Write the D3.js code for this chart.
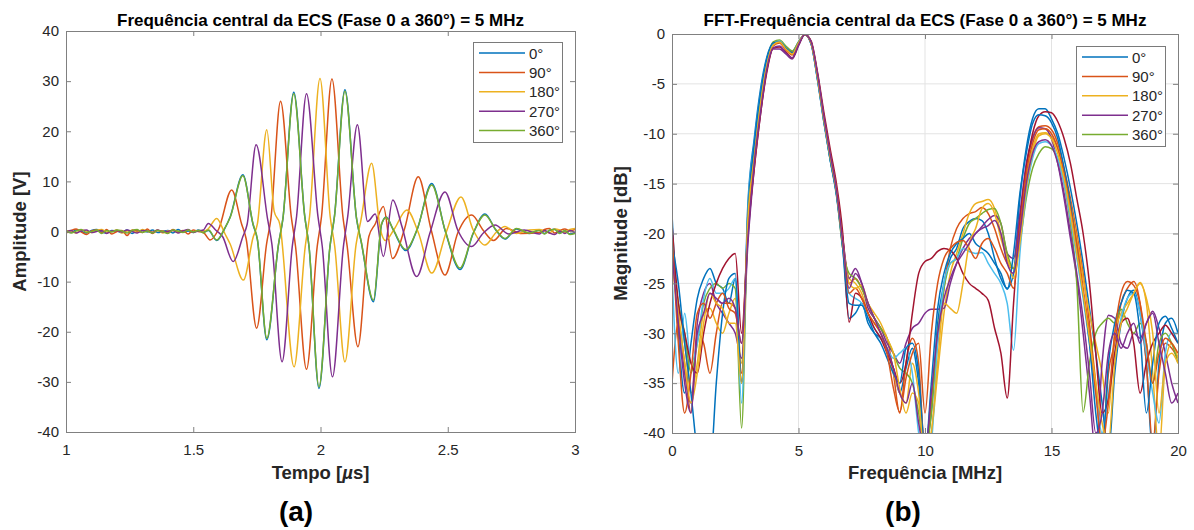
<!DOCTYPE html>
<html>
<head>
<meta charset="utf-8">
<script src="https://cdn.jsdelivr.net/npm/d3@7"></script>
<style>
body { margin: 0; background: #fff; }
svg { display: block; font-family: "Liberation Sans", Arial, sans-serif; }
</style>
</head>
<body>
<script>
// MATLAB default line colours
const colors = ["#0072BD", "#D95319", "#EDB120", "#7E2F8E", "#77AC30", "#4DBEEE", "#A2142F"];
const phaseLabels = ["0°", "90°", "180°", "270°", "360°"];

// ---------- (a) time signals ----------
const timeTicks = [1, 1.5, 2, 2.5, 3];
const ampTicks = [-40, -30, -20, -10, 0, 10, 20, 30, 40];

const tLead = [1.00,1.02,1.04,1.06,1.08,1.10,1.12,1.14,1.16,1.18,1.20,1.22,1.24,1.26,
               1.28,1.30,1.32,1.34,1.36,1.38,1.40,1.42,1.44,1.46,1.48,1.50,1.52,1.54];
const tTail = [2.86,2.88,2.90,2.92,2.94,2.96,2.98,3.00];

const leadBlue   = [0.1,-0.2,0.3,0.0,-0.3,0.2,0.4,-0.1,-0.3,0.2,0.1,-0.2,0.3,-0.4,0.1,0.2,-0.1,0.3,-0.2,0.0,0.2,-0.3,0.4,-0.1,0.1,-0.2,0.3,0.0];
const leadOrange = [-0.3,0.2,0.5,-0.1,-0.6,0.1,0.3,-0.2,0.4,-0.5,0.0,0.2,-0.8,0.3,0.1,-0.2,0.5,-0.4,0.2,0.1,-0.3,0.4,-0.1,0.2,-0.5,0.3,0.0,-0.2];
const leadYellow = [0.2,0.0,-0.3,0.3,0.1,-0.2,0.2,0.4,-0.1,0.0,0.3,-0.3,0.1,0.2,-0.2,0.4,0.0,-0.1,0.3,-0.3,0.1,0.2,-0.2,0.0,0.3,-0.1,0.2,0.1];
const leadPurple = [-0.1,0.2,-0.3,0.1,0.3,-0.2,0.0,0.2,-0.4,0.1,0.2,-0.1,0.3,0.0,-0.3,0.2,0.1,-0.2,0.3,-0.1,0.0,0.2,-0.3,0.1,0.4,-0.2,0.1,0.3];
const leadGreen  = [0.2,-0.3,0.1,0.4,-0.2,0.0,0.3,-0.4,0.2,-0.1,0.3,0.1,-0.3,0.2,0.4,-0.2,0.1,-0.3,0.2,0.0,-0.4,0.3,0.1,-0.2,0.3,-0.1,0.2,-0.3];

const tailBlue   = [0.3,-0.4,0.2,0.5,-0.3,0.1,-0.5,-0.3];
const tailOrange = [-0.2,0.4,0.6,-0.3,0.2,0.5,0.1,0.4];
const tailYellow = [0.4,0.1,-0.3,0.5,0.3,-0.2,0.4,0.6];
const tailPurple = [-0.5,0.2,-0.3,-0.6,0.1,-0.4,0.2,-0.2];
const tailGreen  = [0.2,-0.5,0.3,0.4,-0.4,0.2,-0.6,-0.4];

// burst: [time us, amplitude V]
const burstBlue = [[1.56,0.2],[1.592,-1.8],[1.625,0.7],[1.645,2.9],[1.695,11.3],
  [1.735,1.4],[1.752,-1.6],[1.789,-21.6],[1.835,-2.6],[1.852,2.4],[1.895,27.8],
  [1.938,3.1],[1.955,-3.1],[1.994,-31.3],[2.037,-3.1],[2.055,3.1],[2.096,28.3],
  [2.142,2.4],[2.16,-2.1],[2.208,-14.0],[2.24,1.4],[2.258,2.9],[2.285,0.4],[2.335,-3.8],
  [2.38,0.4],[2.437,9.6],[2.49,0.1],[2.548,-7.6],[2.60,-0.4],[2.646,3.5],
  [2.69,0.2],[2.725,-1.5],[2.77,0.5],[2.82,-0.4]];
const burstOrange = [[1.566,-1.7],[1.60,0.5],[1.651,8.3],
  [1.69,1.5],[1.708,-1.5],[1.749,-19.3],[1.788,-2.5],[1.805,2.5],[1.843,26.0],
  [1.885,3.0],[1.902,-3.0],[1.945,-27.5],[1.987,-3.0],[2.004,3.0],[2.045,30.4],
  [2.088,3.0],[2.105,-3.0],[2.147,-23.0],[2.19,-1.0],[2.215,1.5],[2.247,5.0],[2.283,-5.4],
  [2.33,0.5],[2.384,10.9],[2.435,0.3],[2.489,-8.7],[2.54,-0.2],[2.594,3.3],
  [2.64,0.2],[2.68,-1.8],[2.73,0.6],[2.79,-0.4]];
const burstYellow = [[1.558,0.5],[1.592,2.6],[1.625,-0.5],[1.645,-2.5],[1.697,-9.7],
  [1.735,-1.2],[1.752,1.5],[1.789,20.3],[1.818,4.0],[1.84,1.5],[1.896,-27.0],
  [1.94,-3.0],[1.957,3.0],[1.998,30.5],[2.038,3.0],[2.056,-3.0],[2.096,-26.0],
  [2.14,-2.5],[2.158,2.0],[2.201,13.6],[2.235,0.5],[2.255,-1.8],[2.29,0.5],[2.339,4.3],
  [2.385,-0.3],[2.437,-8.3],[2.495,0.0],[2.552,6.9],[2.60,0.3],[2.646,-2.7],
  [2.69,-0.2],[2.725,1.0],[2.77,-0.4],[2.82,0.3]];
const burstPurple = [[1.559,1.6],[1.59,0.2],[1.615,-1.0],[1.657,-6.0],
  [1.695,-1.0],[1.712,1.5],[1.747,17.3],[1.792,2.5],[1.809,-2.5],[1.849,-26.0],
  [1.889,-3.0],[1.906,3.0],[1.945,27.5],[1.99,3.0],[2.007,-3.0],[2.047,-29.0],
  [2.09,-3.0],[2.107,3.0],[2.145,21.3],[2.185,2.0],[2.215,3.5],[2.247,-5.0],[2.284,6.3],
  [2.32,1.0],[2.378,-9.0],[2.43,-0.3],[2.489,7.9],[2.54,0.2],[2.594,-3.0],
  [2.64,-0.3],[2.686,1.3],[2.74,-0.5],[2.80,0.3]];
const burstGreen = [[1.56,0.3],[1.592,-1.7],[1.625,0.8],[1.645,2.8],[1.695,11.1],
  [1.735,1.5],[1.752,-1.5],[1.789,-21.3],[1.835,-2.5],[1.852,2.5],[1.895,27.5],
  [1.938,3.0],[1.955,-3.0],[1.994,-31.0],[2.037,-3.0],[2.055,3.0],[2.096,28.0],
  [2.142,2.5],[2.16,-2.0],[2.208,-13.7],[2.24,1.5],[2.258,2.8],[2.285,0.5],[2.335,-3.6],
  [2.38,0.5],[2.437,9.3],[2.49,0.2],[2.548,-7.3],[2.60,-0.3],[2.646,3.3],
  [2.69,0.3],[2.725,-1.4],[2.77,0.6],[2.82,-0.3]];

function buildWave(lead, burst, tail) {
  return tLead.map((t, i) => [t, lead[i]]).concat(burst, tTail.map((t, i) => [t, tail[i]]));
}
const waves = [
  buildWave(leadBlue, burstBlue, tailBlue),
  buildWave(leadOrange, burstOrange, tailOrange),
  buildWave(leadYellow, burstYellow, tailYellow),
  buildWave(leadPurple, burstPurple, tailPurple),
  buildWave(leadGreen, burstGreen, tailGreen)
];

// ---------- (b) spectra ----------
const freqTicks = [0, 5, 10, 15, 20];
const dbTicks = [-40, -35, -30, -25, -20, -15, -10, -5, 0];
const freqBins = [
  0,0.25,0.5,0.75, 1,1.25,1.5,1.75, 2,2.25,2.5,2.75, 3,3.25,3.5,3.75, 4,4.25,4.5,4.75,
  5,5.25,5.5,5.75, 6,6.25,6.5,6.75, 7,7.25,7.5,7.75, 8,8.25,8.5,8.75, 9,9.25,9.5,9.75,
  10,10.25,10.5,10.75, 11,11.25,11.5,11.75, 12,12.25,12.5,12.75, 13,13.25,13.5,13.75,
  14,14.25,14.5,14.75, 15,15.25,15.5,15.75, 16,16.25,16.5,16.75, 17,17.25,17.5,17.75,
  18,18.25,18.5,18.75, 19,19.25,19.5,19.75, 20];

const fft1 = [-18,-30,-36,-31, -26.5,-24.5,-23.5,-25, -25.5,-27,-24.5,-35, -17,-10.5,-5.5,-2.3,
  -0.9,-0.8,-1.4,-1.8, -0.8,-0.05,-1.0,-4.6, -8.8,-12.6,-16,-21.5, -28.5,-28,-27,-29,
  -30,-30.5,-31.5,-33.5, -36,-33.5,-31.5,-35, -41,-38,-29,-25, -22.5,-21.5,-19.5,-18.8,
  -18.5,-18.7,-20,-22.5, -24.5,-25.5,-24,-16.5, -11.5,-8.5,-7.5,-7.5, -8.5,-10,-12.5,-15.5,
  -19,-23,-27.5,-32, -37,-42,-34,-29, -26.5,-25.7,-28,-33, -42,-33,-29,-28.5, -30];
const fft2 = [-35,-29,-33,-38, -30,-31,-34,-30, -27,-27,-27.5,-34, -19,-12.5,-7,-3,
  -1.0,-0.7,-1.4,-1.8, -0.9,-0.05,-0.9,-4.2, -8.4,-12.2,-15.6,-20.5, -25,-24.5,-25.5,-27,
  -28.5,-29.5,-30.5,-34, -38,-33,-30.5,-33, -42,-37,-31,-25.5, -21.5,-19.5,-18.5,-18,
  -17.8,-17.4,-18,-19.5, -21.5,-23,-23.5,-19, -13.5,-10.5,-9.3,-9.2, -9.6,-11,-13.5,-16.5,
  -20,-24,-29,-35, -42,-34,-31,-27, -25.5,-24.8,-27,-33, -41,-34,-31,-31.5, -32.5];
const fft3 = [-22,-27,-31,-36, -33,-28,-27.5,-29, -30,-28,-26.5,-33, -19.5,-13,-7.5,-3.3,
  -1.1,-0.8,-1.5,-2.0, -1.0,-0.05,-0.9,-4.3, -8.5,-12.4,-15.9,-21, -24.5,-25,-26,-28,
  -29,-30,-31.5,-34, -36,-37,-33,-36, -42,-40,-34,-28, -24,-22,-20,-18,
  -17,-16.8,-16.6,-17.5, -20,-22.5,-23.5,-20, -14.5,-11.5,-10,-9.9, -10.3,-11.5,-14,-17,
  -20.5,-24.5,-28,-31, -34,-38,-30,-28, -27,-26,-24.9,-27, -34,-42,-33,-31, -32.5];
const fft4 = [-20,-28,-34,-37, -29,-26,-25,-27, -28,-29,-30,-32.5, -21,-13.5,-8,-3.6,
  -1.5,-1.5,-2.0,-2.5, -1.2,-0.05,-0.8,-4.0, -8.2,-12,-15.5,-20.5, -24.5,-23.5,-25,-27.5,
  -28.5,-29.5,-31,-32, -33,-31,-29.5,-29, -28,-27.6,-27.6,-27.5, -25,-23,-21.5,-20.5,
  -20,-19.3,-18.6,-18.2, -19,-22,-22.5,-18, -13,-10.5,-9.4,-9.5, -10.5,-13,-16.5,-20.5,
  -24.5,-30,-36,-42, -33,-28.2,-28.5,-31, -31.5,-30,-30.5,-29, -27.8,-29.5,-32,-35, -37];
const fft5 = [-22,-27,-30,-34, -31,-27,-25.5,-25, -25.5,-25,-25.5,-39.5, -18,-11.5,-6.5,-2.8,
  -0.8,-0.6,-1.2,-1.7, -0.8,-0.05,-0.9,-4.4, -8.6,-12.5,-16,-21.5, -24,-24.5,-25.5,-27,
  -28.5,-29.5,-30.5,-32, -33.5,-34,-35,-38, -42,-38,-30,-25.5, -23,-22.5,-20.5,-19,
  -18.5,-18,-17.6,-17.5, -19,-22,-23.5,-21, -16.5,-13.5,-12,-11.3, -11.5,-12.5,-15,-19,
  -25,-37.9,-33,-30, -29,-28.5,-29,-27.6, -29,-30,-29,-31, -35,-31,-30,-31, -33];
const fft6 = [-24,-34,-28,-33, -31,-26.5,-24.5,-26, -26,-25.5,-24.5,-37, -17.5,-11,-6,-2.6,
  -1.0,-0.7,-1.4,-1.9, -0.9,-0.05,-1.0,-4.5, -8.7,-12.5,-16,-21.2, -26,-26.5,-27,-28.5,
  -29.5,-30.5,-31.5,-32.5, -32,-31.5,-34,-40, -43,-41,-31,-25, -23,-22.5,-21.5,-21.8,
  -22,-21.9,-23,-24, -25,-27,-31.7,-22, -16,-12.5,-11,-10.8, -11.2,-12.5,-15,-18.5,
  -22.5,-26.5,-31,-36, -40,-36,-32,-28.5, -26.5,-26,-28,-32, -36,-39,-32,-30, -30];
const fft7 = [-19,-27,-30,-33, -34,-30,-27,-25, -23.5,-22.5,-22,-30, -20,-13.5,-8,-3.8,
  -1.4,-1.3,-1.8,-2.4, -1.1,-0.05,-0.7,-3.8, -7.8,-11.5,-15,-20, -28.9,-26,-26.5,-28,
  -29.5,-30.5,-32,-33.5, -35,-33,-28,-24, -22.8,-22.5,-21.8,-21.5, -21.7,-22.5,-24,-25,
  -25.5,-26,-26.7,-29.5, -32,-36.5,-27,-19, -13.5,-10,-8.2,-7.8, -7.9,-8.8,-10.5,-13,
  -16.5,-20,-25,-32, -38,-36.6,-32,-29, -28.5,-31,-36,-33, -31,-30,-29.2,-30, -31];
const fft8 = [-21,-25,-31,-36, -42,-45,-44,-35, -28,-24.5,-24,-35, -18,-11,-6,-2.5,
  -0.9,-0.8,-1.4,-1.9, -0.9,-0.05,-1.0,-4.5, -8.7,-12.6,-16.2,-21.5, -27,-27.2,-27.2,-28.5,
  -30,-31,-32.5,-34, -35,-31.5,-31,-34, -42,-35,-27.5,-24, -22,-21,-20.5,-20,
  -21,-21.5,-22,-23, -24,-25.6,-22,-16, -12,-9,-8.1,-8.2, -8.9,-10.5,-13.5,-17,
  -21.5,-26,-31,-38, -42,-33,-29,-27, -25.7,-26,-30,-38, -33,-29,-28.3,-29.5, -31];
const fft9 = [-20,-31,-38,-34, -28,-27,-28.5,-27, -26,-27.5,-28,-31, -19.5,-13,-7.5,-3.3,
  -1.2,-0.9,-1.6,-2.1, -1.0,-0.05,-0.9,-4.2, -8.3,-12,-15.5,-20.8, -26,-25.5,-26.5,-28,
  -29,-30,-32,-35.5, -37.9,-34.5,-32,-31, -38,-30,-25,-22.5, -21.5,-20.9,-20.7,-21.5,
  -22.5,-21,-20.5,-21.5, -23,-24,-25.5,-19.5, -14,-11,-9.6,-9.5, -10,-11.5,-14,-17.5,
  -21,-25.5,-30,-36, -41,-37,-30,-26, -24.8,-25.2,-27,-31, -35,-32,-30.5,-31, -32];
const fft10 = [-23,-28,-33,-37, -34,-29,-26,-27, -27.5,-29,-29,-35, -18.5,-12.5,-7,-3.1,
  -1.1,-0.8,-1.5,-2.0, -0.9,-0.05,-0.9,-4.3, -8.5,-12.3,-15.8,-21, -25,-25.5,-25.2,-27,
  -28,-29,-30.5,-32, -35.5,-38,-36,-37, -43,-40,-33,-27, -27.5,-28,-25,-21,
  -19.5,-17.5,-17,-18, -20.5,-22.5,-24.5,-21, -15.5,-12,-10.2,-10, -10.5,-12,-14.5,-18,
  -22,-26,-30.5,-35, -39,-41,-33,-29, -27.5,-26,-25,-26.5, -30,-38,-33,-32, -33];
const fft11 = [-22,-29,-35,-38, -30,-28,-26,-26.5, -27,-26.5,-27.5,-31, -20.5,-13,-7.8,-3.5,
  -1.4,-1.2,-1.9,-2.4, -1.1,-0.05,-0.8,-4.0, -8.2,-12,-15.6,-20.8, -25.5,-24,-25,-27,
  -28.5,-30,-31.5,-33.5, -36,-37,-35,-39, -42,-36,-30,-26.5, -24.5,-23,-22,-21,
  -20,-19.5,-19.2,-18.7, -20,-23,-24,-20, -15,-12,-10.8,-10.6, -11.2,-13,-16,-20,
  -24,-28.5,-34,-40, -38,-32,-30,-31.5, -30,-29,-31,-29, -28,-31,-34,-37, -36];
const spectra = [fft1, fft2, fft3, fft4, fft5, fft6, fft7, fft8, fft9, fft10, fft11];
const spectraColors = [0, 1, 2, 3, 4, 5, 6, 0, 1, 2, 3].map(i => colors[i]);

// ---------- drawing ----------
const svg = d3.select("body").append("svg")
  .attr("width", 1194).attr("height", 530);

const axisColor = "#262626";
const boxColor = "#808080";

function drawPanel(opt) {
  const x = opt.x, y = opt.y;
  const [x0, x1] = x.range(), [y1, y0] = y.range();
  const g = svg.append("g");

  const clipId = opt.id + "-clip";
  svg.append("clipPath").attr("id", clipId)
    .append("rect").attr("x", x0).attr("y", y0).attr("width", x1 - x0).attr("height", y1 - y0);

  if (opt.grid) {
    g.append("g").selectAll("line").data(opt.xTicks.slice(1, -1)).join("line")
      .attr("x1", d => x(d)).attr("x2", d => x(d)).attr("y1", y0).attr("y2", y1)
      .attr("stroke", "#e3e3e3").attr("stroke-width", 1);
    g.append("g").selectAll("line").data(opt.yTicks.slice(1, -1)).join("line")
      .attr("y1", d => y(d)).attr("y2", d => y(d)).attr("x1", x0).attr("x2", x1)
      .attr("stroke", "#e3e3e3").attr("stroke-width", 1);
  }

  const line = d3.line().x(d => x(d[0])).y(d => y(d[1])).curve(opt.curve);
  g.append("g").attr("clip-path", `url(#${clipId})`)
    .selectAll("path").data(opt.series).join("path")
    .attr("d", d => line(d.pts))
    .attr("fill", "none")
    .attr("stroke", d => d.color)
    .attr("stroke-width", 1.5)
    .attr("stroke-linejoin", "round");

  // axes with inward ticks on all four sides
  const fmt = d => String(d);
  const styleAxis = sel => {
    sel.select(".domain").remove();
    sel.selectAll(".tick line").attr("stroke", boxColor);
    sel.selectAll(".tick text").attr("fill", axisColor).style("font-size", "15px")
      .style("font-family", '"Liberation Sans", Arial, sans-serif');
  };
  g.append("g").attr("transform", `translate(0,${y1})`)
    .call(d3.axisBottom(x).tickValues(opt.xTicks).tickFormat(fmt).tickSize(-5).tickPadding(12))
    .call(styleAxis);
  g.append("g").attr("transform", `translate(0,${y0})`)
    .call(d3.axisTop(x).tickValues(opt.xTicks).tickFormat("").tickSize(-5))
    .call(styleAxis);
  g.append("g").attr("transform", `translate(${x0},0)`)
    .call(d3.axisLeft(y).tickValues(opt.yTicks).tickFormat(fmt).tickSize(-5).tickPadding(7))
    .call(styleAxis);
  g.append("g").attr("transform", `translate(${x1},0)`)
    .call(d3.axisRight(y).tickValues(opt.yTicks).tickFormat("").tickSize(-5))
    .call(styleAxis);

  g.append("rect").attr("x", x0 + 0.5).attr("y", y0 + 0.5)
    .attr("width", x1 - x0).attr("height", y1 - y0)
    .attr("fill", "none").attr("stroke", boxColor).attr("stroke-width", 1);

  const cx = (x0 + x1) / 2;
  g.append("text").attr("x", cx).attr("y", 26).attr("text-anchor", "middle")
    .attr("fill", "#000").style("font-size", "17px").style("font-weight", "bold")
    .text(opt.title);

  const xl = g.append("text").attr("x", cx).attr("y", 479).attr("text-anchor", "middle")
    .attr("fill", axisColor).style("font-size", "18.5px").style("font-weight", "bold");
  opt.xLabel.forEach(p => xl.append("tspan").style("font-style", p.italic ? "italic" : null).text(p.s));

  g.append("text").attr("transform", `translate(${opt.yLabelX},${(y0 + y1) / 2}) rotate(-90)`)
    .attr("text-anchor", "middle").attr("fill", axisColor)
    .style("font-size", "18.5px").style("font-weight", "bold").text(opt.yLabel);

  g.append("text").attr("x", opt.tagX).attr("y", 521).attr("text-anchor", "middle")
    .attr("fill", "#000").style("font-size", "28px").style("font-weight", "bold").text(opt.tag);

  // legend
  const lg = g.append("g").attr("transform", `translate(${opt.legend[0]},${opt.legend[1]})`);
  lg.append("rect").attr("x", 0.5).attr("y", 0.5).attr("width", 89).attr("height", 100)
    .attr("fill", "#fff").attr("stroke", "#7a7a7a").attr("stroke-width", 1);
  const items = lg.selectAll("g.item").data(phaseLabels).join("g")
    .attr("transform", (d, i) => `translate(0,${11 + i * 19.4})`);
  items.append("line").attr("x1", 6).attr("x2", 52).attr("y1", 0).attr("y2", 0)
    .attr("stroke", (d, i) => colors[i]).attr("stroke-width", 1.5);
  items.append("text").attr("x", 56).attr("y", 5.5).attr("fill", axisColor)
    .style("font-size", "15px").text(d => d);
}

drawPanel({
  id: "a",
  x: d3.scaleLinear([1, 3], [66, 575]),
  y: d3.scaleLinear([-40, 40], [432, 31]),
  xTicks: timeTicks, yTicks: ampTicks,
  curve: d3.curveMonotoneX,
  series: waves.map((w, i) => ({ pts: w, color: colors[i] })),
  title: "Frequência central da ECS (Fase 0 a 360°) = 5 MHz",
  xLabel: [{ s: "Tempo [" }, { s: "µ", italic: true }, { s: "s]" }],
  yLabel: "Amplitude [V]", yLabelX: 26,
  tag: "(a)", tagX: 296,
  legend: [473, 42],
  grid: false
});

drawPanel({
  id: "b",
  x: d3.scaleLinear([0, 20], [672, 1178]),
  y: d3.scaleLinear([-40, 0], [433, 34]),
  xTicks: freqTicks, yTicks: dbTicks,
  curve: d3.curveMonotoneX,
  series: spectra.map((s, i) => ({ pts: freqBins.map((f, j) => [f, s[j]]), color: spectraColors[i] })),
  title: "FFT-Frequência central da ECS (Fase 0 a 360°) = 5 MHz",
  xLabel: [{ s: "Frequência [MHz]" }],
  yLabel: "Magnitude [dB]", yLabelX: 627,
  tag: "(b)", tagX: 903,
  legend: [1076, 46],
  grid: true
});
</script>
</body>
</html>
